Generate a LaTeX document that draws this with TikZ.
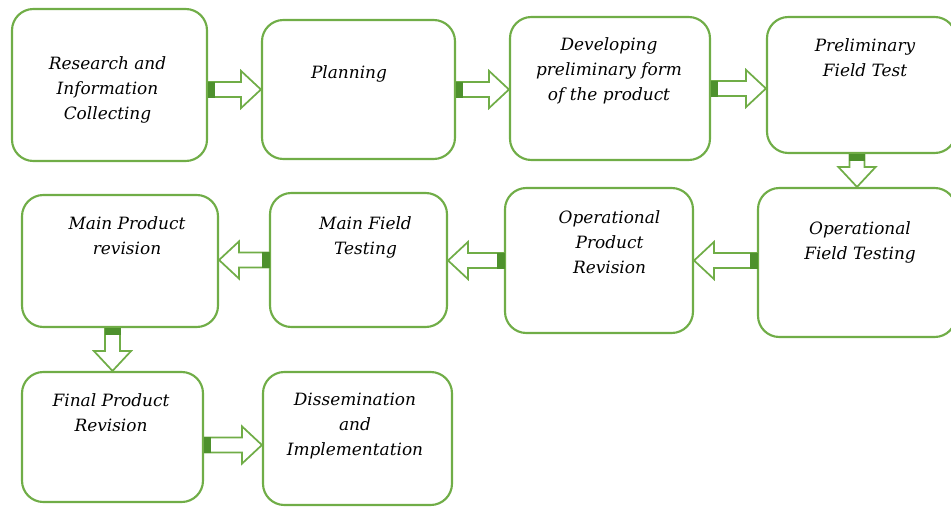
\documentclass[tikz,border=0pt]{standalone}
\usepackage{fontspec}
\setmainfont{DejaVu Serif}
\usetikzlibrary{calc}

\definecolor{boxgreen}{RGB}{112,173,71}
\definecolor{tailgreen}{RGB}{78,145,45}

\tikzset{
  stage/.style={draw=boxgreen, line width=1.6pt, rounded corners=16pt, fill=white, inner sep=0pt},
  stagetext/.style={anchor=north, align=center, inner sep=0pt, font=\itshape\fontsize{12.7}{18.75}\selectfont},
  arrowline/.style={draw=boxgreen, line width=1.3pt, fill=white, line join=miter},
  arrowtail/.style={fill=tailgreen, draw=tailgreen, line width=0.6pt},
}

% hollow block arrow from #1 (tail) to #2 (tip)
\newcommand{\flowarrow}[2]{%
  \coordinate (fa-h) at ($(#2)!15pt!(#1)$);
  \coordinate (fa-t) at ($(#1)!5pt!(#2)$);
  \draw[arrowline] ($(#1)!5.6pt!90:(#2)$) -- ($(fa-h)!5.6pt!90:(#2)$) -- ($(fa-h)!14pt!90:(#2)$)
    -- (#2) -- ($(fa-h)!14pt!-90:(#2)$) -- ($(fa-h)!5.6pt!-90:(#2)$) -- ($(#1)!5.6pt!-90:(#2)$) -- cycle;
  \filldraw[arrowtail] ($(#1)!5.6pt!90:(#2)$) -- ($(fa-t)!5.6pt!90:(#2)$)
    -- ($(fa-t)!5.6pt!-90:(#2)$) -- ($(#1)!5.6pt!-90:(#2)$) -- cycle;
}

\begin{document}
\begin{tikzpicture}[x=0.75pt,y=-0.75pt]
  \useasboundingbox (0,0) rectangle (951,508);

  % first row
  \node[stage, minimum width=146.25pt, minimum height=114pt] (b1) at (109.5,85) {};
  \node[stage, minimum width=144.75pt, minimum height=104.25pt] (b2) at (358.5,89.5) {};
  \node[stage, minimum width=150pt, minimum height=107.25pt] (b3) at (610,88.5) {};
  \node[stage, minimum width=141.75pt, minimum height=102pt] (b4) at (861.5,85) {};
  % second row
  \node[stage, minimum width=148.5pt, minimum height=111.75pt] (b5) at (857,262.5) {};
  \node[stage, minimum width=141pt, minimum height=108.75pt] (b6) at (599,260.5) {};
  \node[stage, minimum width=132.75pt, minimum height=100.5pt] (b7) at (358.5,260) {};
  \node[stage, minimum width=147pt, minimum height=99pt] (b8) at (120,261) {};
  % third row
  \node[stage, minimum width=135.75pt, minimum height=97.5pt] (b9) at (112.5,437) {};
  \node[stage, minimum width=141.75pt, minimum height=99.75pt] (b10) at (357.5,438.5) {};

  % arrows
  \flowarrow{b1.east |- b2.west}{b2.west}
  \flowarrow{b2.east}{b3.west |- b2.east}
  \flowarrow{b3.east}{b4.west |- b3.east}
  \flowarrow{b5.north |- b4.south}{b5.north}
  \flowarrow{b5.west |- b6.east}{b6.east}
  \flowarrow{b6.west}{b7.east |- b6.west}
  \flowarrow{b7.west}{b8.east |- b7.west}
  \flowarrow{b8.south -| b9.north}{b9.north}
  \coordinate (a9) at ([yshift=-6pt]b9.east);
  \flowarrow{a9}{a9 -| b10.west}

  % Text Node
  \node[stagetext] (t1) at (107.5,56) {Research and\\Information\\Collecting};
  \node[stagetext] (t2) at (349,65) {Planning};
  \node[stagetext] (t3) at (609,37) {Developing\\preliminary form\\of the product};
  \node[stagetext] (t4) at (865,38) {Preliminary\\Field Test};
  \node[stagetext] (t5) at (860,221) {Operational\\Field Testing};
  \node[stagetext] (t6) at (609.5,210) {Operational\\Product\\Revision};
  \node[stagetext] (t7) at (365.5,216) {Main Field\\Testing};
  \node[stagetext] (t8) at (127,216) {Main Product\\revision};
  \node[stagetext] (t9) at (111,393) {Final Product\\Revision};
  \node[stagetext] (t10) at (355,393) {Dissemination\\and\\Implementation};
\end{tikzpicture}
\end{document}
